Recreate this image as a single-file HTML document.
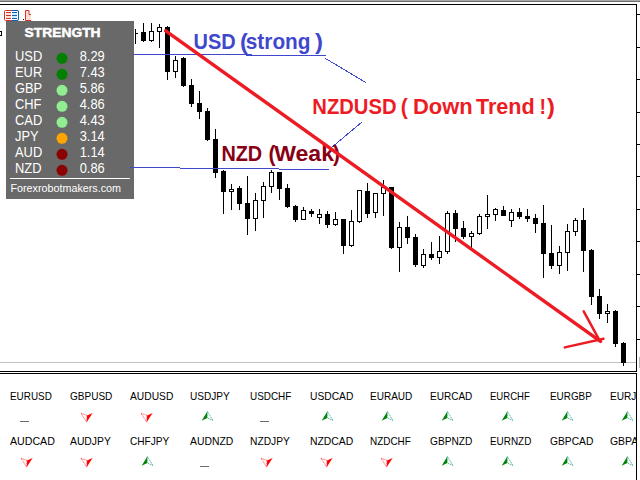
<!DOCTYPE html>
<html lang="en"><head><meta charset="utf-8"><title>Currency Strength - NZDUSD Down Trend</title>
<style>
html,body{margin:0;padding:0;background:#fff;}
body{width:640px;height:480px;overflow:hidden;position:relative;font-family:"Liberation Sans",sans-serif;}
svg{position:absolute;left:0;top:0;display:block;}
text{font-family:"Liberation Sans",sans-serif;}
.cal{font-weight:bold;}
</style></head><body>
<svg width="640" height="480" viewBox="0 0 640 480">
<rect x="0" y="0" width="640" height="480" fill="#ffffff"/>
<g shape-rendering="crispEdges">
<rect x="0" y="0" width="640" height="1" fill="#a9a9a9"/>
<rect x="0" y="1" width="640" height="1" fill="#6e6e6e"/>
<rect x="0" y="4" width="637" height="1" fill="#000"/>
<rect x="636" y="4" width="1" height="368" fill="#000"/>
<rect x="0" y="371" width="637" height="1" fill="#000"/>
<rect x="0" y="373" width="637" height="1" fill="#000"/>
<rect x="636" y="373" width="1" height="107" fill="#000"/>
<rect x="636" y="14" width="4" height="1" fill="#000"/>
<rect x="636" y="47" width="4" height="1" fill="#000"/>
<rect x="636" y="79" width="4" height="1" fill="#000"/>
<rect x="636" y="112" width="4" height="1" fill="#000"/>
<rect x="636" y="144" width="4" height="1" fill="#000"/>
<rect x="636" y="176" width="4" height="1" fill="#000"/>
<rect x="636" y="209" width="4" height="1" fill="#000"/>
<rect x="636" y="241" width="4" height="1" fill="#000"/>
<rect x="636" y="274" width="4" height="1" fill="#000"/>
<rect x="636" y="306" width="4" height="1" fill="#000"/>
<rect x="636" y="339" width="4" height="1" fill="#000"/>
<rect x="0" y="362" width="636" height="1" fill="#c0c0c0"/>
<rect x="639" y="357" width="1" height="11" fill="#b8b8b8"/>
</g>
<g shape-rendering="crispEdges">
<rect x="-3.5" y="31.5" width="5" height="4" fill="#fff" stroke="#000" stroke-width="1"/>
<rect x="135" y="29" width="1" height="15" fill="#000"/>
<rect x="135" y="33" width="3" height="1" fill="#000"/>
<rect x="143" y="23" width="1" height="19" fill="#000"/>
<rect x="141" y="32" width="5" height="9" fill="#000"/>
<rect x="151" y="23" width="1" height="19" fill="#000"/>
<rect x="149.5" y="31.5" width="4" height="9" fill="#fff" stroke="#000" stroke-width="1"/>
<rect x="159" y="24" width="1" height="24" fill="#000"/>
<rect x="157.5" y="27.5" width="4" height="4" fill="#fff" stroke="#000" stroke-width="1"/>
<rect x="167" y="26" width="1" height="54" fill="#000"/>
<rect x="165" y="27" width="5" height="45" fill="#000"/>
<rect x="175" y="56" width="1" height="22" fill="#000"/>
<rect x="173.5" y="60.5" width="4" height="11" fill="#fff" stroke="#000" stroke-width="1"/>
<rect x="183" y="57" width="1" height="30" fill="#000"/>
<rect x="181" y="58" width="5" height="28" fill="#000"/>
<rect x="191" y="79" width="1" height="28" fill="#000"/>
<rect x="189" y="85" width="5" height="19" fill="#000"/>
<rect x="199" y="91" width="1" height="28" fill="#000"/>
<rect x="197" y="103" width="5" height="9" fill="#000"/>
<rect x="207" y="108" width="1" height="33" fill="#000"/>
<rect x="205" y="111" width="5" height="29" fill="#000"/>
<rect x="215" y="129" width="1" height="49" fill="#000"/>
<rect x="213" y="139" width="5" height="34" fill="#000"/>
<rect x="223" y="170" width="1" height="44" fill="#000"/>
<rect x="221" y="171" width="5" height="21" fill="#000"/>
<rect x="231" y="184" width="1" height="26" fill="#000"/>
<rect x="229.5" y="189.5" width="4" height="2" fill="#fff" stroke="#000" stroke-width="1"/>
<rect x="239" y="186" width="1" height="24" fill="#000"/>
<rect x="237" y="188" width="5" height="16" fill="#000"/>
<rect x="247" y="176" width="1" height="59" fill="#000"/>
<rect x="245" y="203" width="5" height="16" fill="#000"/>
<rect x="255" y="193" width="1" height="38" fill="#000"/>
<rect x="253.5" y="200.5" width="4" height="18" fill="#fff" stroke="#000" stroke-width="1"/>
<rect x="263" y="182" width="1" height="36" fill="#000"/>
<rect x="261.5" y="186.5" width="4" height="14" fill="#fff" stroke="#000" stroke-width="1"/>
<rect x="271" y="170" width="1" height="23" fill="#000"/>
<rect x="269.5" y="172.5" width="4" height="14" fill="#fff" stroke="#000" stroke-width="1"/>
<rect x="279" y="172" width="1" height="28" fill="#000"/>
<rect x="277" y="172" width="5" height="17" fill="#000"/>
<rect x="287" y="184" width="1" height="24" fill="#000"/>
<rect x="285" y="188" width="5" height="19" fill="#000"/>
<rect x="295" y="205" width="1" height="17" fill="#000"/>
<rect x="293" y="206" width="5" height="14" fill="#000"/>
<rect x="303" y="207" width="1" height="13" fill="#000"/>
<rect x="301.5" y="210.5" width="4" height="9" fill="#fff" stroke="#000" stroke-width="1"/>
<rect x="311" y="209" width="1" height="8" fill="#000"/>
<rect x="309" y="211" width="5" height="3" fill="#000"/>
<rect x="319" y="209" width="1" height="15" fill="#000"/>
<rect x="317.5" y="214.5" width="4" height="3" fill="#fff" stroke="#000" stroke-width="1"/>
<rect x="327" y="211" width="1" height="17" fill="#000"/>
<rect x="325" y="214" width="5" height="11" fill="#000"/>
<rect x="335" y="212" width="1" height="14" fill="#000"/>
<rect x="333.5" y="219.5" width="4" height="5" fill="#fff" stroke="#000" stroke-width="1"/>
<rect x="343" y="219" width="1" height="35" fill="#000"/>
<rect x="341" y="219" width="5" height="27" fill="#000"/>
<rect x="351" y="210" width="1" height="37" fill="#000"/>
<rect x="349.5" y="221.5" width="4" height="24" fill="#fff" stroke="#000" stroke-width="1"/>
<rect x="359" y="190" width="1" height="33" fill="#000"/>
<rect x="357.5" y="190.5" width="4" height="31" fill="#fff" stroke="#000" stroke-width="1"/>
<rect x="367" y="183" width="1" height="35" fill="#000"/>
<rect x="365" y="191" width="5" height="23" fill="#000"/>
<rect x="375" y="193" width="1" height="25" fill="#000"/>
<rect x="373.5" y="193.5" width="4" height="19" fill="#fff" stroke="#000" stroke-width="1"/>
<rect x="383" y="180" width="1" height="36" fill="#000"/>
<rect x="381.5" y="187.5" width="4" height="6" fill="#fff" stroke="#000" stroke-width="1"/>
<rect x="391" y="187" width="1" height="62" fill="#000"/>
<rect x="389" y="187" width="5" height="61" fill="#000"/>
<rect x="399" y="222" width="1" height="50" fill="#000"/>
<rect x="397.5" y="227.5" width="4" height="20" fill="#fff" stroke="#000" stroke-width="1"/>
<rect x="407" y="216" width="1" height="28" fill="#000"/>
<rect x="405" y="227" width="5" height="11" fill="#000"/>
<rect x="415" y="234" width="1" height="33" fill="#000"/>
<rect x="413" y="237" width="5" height="28" fill="#000"/>
<rect x="423" y="249" width="1" height="19" fill="#000"/>
<rect x="421.5" y="254.5" width="4" height="11" fill="#fff" stroke="#000" stroke-width="1"/>
<rect x="431" y="242" width="1" height="18" fill="#000"/>
<rect x="429" y="254" width="5" height="4" fill="#000"/>
<rect x="439" y="236" width="1" height="28" fill="#000"/>
<rect x="437.5" y="251.5" width="4" height="6" fill="#fff" stroke="#000" stroke-width="1"/>
<rect x="447" y="211" width="1" height="43" fill="#000"/>
<rect x="445.5" y="213.5" width="4" height="38" fill="#fff" stroke="#000" stroke-width="1"/>
<rect x="455" y="210" width="1" height="32" fill="#000"/>
<rect x="453" y="213" width="5" height="16" fill="#000"/>
<rect x="463" y="221" width="1" height="18" fill="#000"/>
<rect x="461" y="228" width="5" height="9" fill="#000"/>
<rect x="471" y="231" width="1" height="18" fill="#000"/>
<rect x="469.5" y="233.5" width="4" height="3" fill="#fff" stroke="#000" stroke-width="1"/>
<rect x="479" y="214" width="1" height="21" fill="#000"/>
<rect x="477.5" y="216.5" width="4" height="17" fill="#fff" stroke="#000" stroke-width="1"/>
<rect x="487" y="195" width="1" height="34" fill="#000"/>
<rect x="485.5" y="214.5" width="4" height="2" fill="#fff" stroke="#000" stroke-width="1"/>
<rect x="495" y="208" width="1" height="13" fill="#000"/>
<rect x="493.5" y="209.5" width="4" height="5" fill="#fff" stroke="#000" stroke-width="1"/>
<rect x="503" y="206" width="1" height="10" fill="#000"/>
<rect x="501" y="210" width="5" height="6" fill="#000"/>
<rect x="511" y="209" width="1" height="18" fill="#000"/>
<rect x="509.5" y="212.5" width="4" height="8" fill="#fff" stroke="#000" stroke-width="1"/>
<rect x="519" y="208" width="1" height="11" fill="#000"/>
<rect x="517" y="212" width="5" height="5" fill="#000"/>
<rect x="527" y="209" width="1" height="13" fill="#000"/>
<rect x="525" y="216" width="5" height="3" fill="#000"/>
<rect x="535" y="214" width="1" height="19" fill="#000"/>
<rect x="533" y="218" width="5" height="6" fill="#000"/>
<rect x="543" y="205" width="1" height="73" fill="#000"/>
<rect x="541" y="223" width="5" height="31" fill="#000"/>
<rect x="551" y="225" width="1" height="44" fill="#000"/>
<rect x="549" y="253" width="5" height="13" fill="#000"/>
<rect x="559" y="246" width="1" height="28" fill="#000"/>
<rect x="557.5" y="252.5" width="4" height="13" fill="#fff" stroke="#000" stroke-width="1"/>
<rect x="567" y="224" width="1" height="47" fill="#000"/>
<rect x="565.5" y="231.5" width="4" height="21" fill="#fff" stroke="#000" stroke-width="1"/>
<rect x="575" y="218" width="1" height="18" fill="#000"/>
<rect x="573.5" y="220.5" width="4" height="11" fill="#fff" stroke="#000" stroke-width="1"/>
<rect x="583" y="208" width="1" height="64" fill="#000"/>
<rect x="581" y="220" width="5" height="31" fill="#000"/>
<rect x="591" y="249" width="1" height="56" fill="#000"/>
<rect x="589" y="250" width="5" height="47" fill="#000"/>
<rect x="599" y="289" width="1" height="30" fill="#000"/>
<rect x="597" y="296" width="5" height="18" fill="#000"/>
<rect x="607" y="304" width="1" height="19" fill="#000"/>
<rect x="605.5" y="311.5" width="4" height="2" fill="#fff" stroke="#000" stroke-width="1"/>
<rect x="615" y="310" width="1" height="37" fill="#000"/>
<rect x="613" y="311" width="5" height="33" fill="#000"/>
<rect x="623" y="342" width="1" height="24" fill="#000"/>
<rect x="621" y="343" width="5" height="20" fill="#000"/>
</g>
<rect x="6" y="21" width="128" height="178" fill="#696969" shape-rendering="crispEdges"/>
<text x="24.6" y="37.4" font-size="11.9" font-weight="bold" fill="#fff" stroke="#fff" stroke-width="0.45" textLength="76" lengthAdjust="spacingAndGlyphs">STRENGTH</text>
<text transform="translate(15,60.6) scale(0.915,1)" font-size="14.1" fill="#fff">USD</text>
<circle cx="62" cy="58.3" r="5.5" fill="#008000"/>
<text transform="translate(79.7,60.6) scale(0.915,1)" font-size="14.1" fill="#fff">8.29</text>
<text transform="translate(15,76.6) scale(0.915,1)" font-size="14.1" fill="#fff">EUR</text>
<circle cx="62" cy="74.3" r="5.5" fill="#008000"/>
<text transform="translate(79.7,76.6) scale(0.915,1)" font-size="14.1" fill="#fff">7.43</text>
<text transform="translate(15,92.6) scale(0.915,1)" font-size="14.1" fill="#fff">GBP</text>
<circle cx="62" cy="90.3" r="5.5" fill="#90ee90"/>
<text transform="translate(79.7,92.6) scale(0.915,1)" font-size="14.1" fill="#fff">5.86</text>
<text transform="translate(15,108.6) scale(0.915,1)" font-size="14.1" fill="#fff">CHF</text>
<circle cx="62" cy="106.3" r="5.5" fill="#90ee90"/>
<text transform="translate(79.7,108.6) scale(0.915,1)" font-size="14.1" fill="#fff">4.86</text>
<text transform="translate(15,124.6) scale(0.915,1)" font-size="14.1" fill="#fff">CAD</text>
<circle cx="62" cy="122.3" r="5.5" fill="#90ee90"/>
<text transform="translate(79.7,124.6) scale(0.915,1)" font-size="14.1" fill="#fff">4.43</text>
<text transform="translate(15,140.6) scale(0.915,1)" font-size="14.1" fill="#fff">JPY</text>
<circle cx="62" cy="138.3" r="5.5" fill="#ffa500"/>
<text transform="translate(79.7,140.6) scale(0.915,1)" font-size="14.1" fill="#fff">3.14</text>
<text transform="translate(15,156.6) scale(0.915,1)" font-size="14.1" fill="#fff">AUD</text>
<circle cx="62" cy="154.3" r="5.5" fill="#8b0000"/>
<text transform="translate(79.7,156.6) scale(0.915,1)" font-size="14.1" fill="#fff">1.14</text>
<text transform="translate(15,172.6) scale(0.915,1)" font-size="14.1" fill="#fff">NZD</text>
<circle cx="62" cy="170.3" r="5.5" fill="#8b0000"/>
<text transform="translate(79.7,172.6) scale(0.915,1)" font-size="14.1" fill="#fff">0.86</text>
<rect x="10" y="178" width="120" height="1" fill="#fff" shape-rendering="crispEdges"/>
<path d="M130 167.5H180M180 168.5H279M279 169.5H329" stroke="#3f48cc" stroke-width="1" fill="none" shape-rendering="crispEdges"/>
<g stroke="#3f48cc" stroke-width="1" fill="none" shape-rendering="crispEdges">
<path d="M133 54.5H252M246 55.5H326"/>
<line x1="325.5" y1="58.5" x2="366" y2="82.7"/>
<line x1="362.3" y1="121.7" x2="331" y2="148"/>
</g>
<text x="10.5" y="191.8" font-size="10.7" fill="#fff" textLength="110.5" lengthAdjust="spacingAndGlyphs">Forexrobotmakers.com</text>
<text class="cal" x="193.6" y="48.9" font-size="21.3" fill="#3f48cc" textLength="42.1" lengthAdjust="spacingAndGlyphs">USD</text>
<text class="cal" x="239.9" y="48.9" font-size="21.3" fill="#3f48cc" textLength="7.8" lengthAdjust="spacingAndGlyphs">(</text>
<text class="cal" x="245.8" y="48.9" font-size="21.3" fill="#3f48cc" textLength="64.7" lengthAdjust="spacingAndGlyphs">strong</text>
<text class="cal" x="314.9" y="48.9" font-size="21.3" fill="#3f48cc" textLength="8.0" lengthAdjust="spacingAndGlyphs">)</text>
<text class="cal" x="312.3" y="113.8" font-size="21.2" fill="#ed1c24" textLength="84.2" lengthAdjust="spacingAndGlyphs">NZDUSD</text>
<text class="cal" x="400.8" y="113.8" font-size="21.2" fill="#ed1c24" textLength="7.0" lengthAdjust="spacingAndGlyphs">(</text>
<text class="cal" x="412.9" y="113.8" font-size="21.2" fill="#ed1c24" textLength="59.7" lengthAdjust="spacingAndGlyphs">Down</text>
<text class="cal" x="476.0" y="113.8" font-size="21.2" fill="#ed1c24" textLength="58.7" lengthAdjust="spacingAndGlyphs">Trend</text>
<text class="cal" x="539.5" y="113.8" font-size="21.2" fill="#ed1c24" textLength="6.5" lengthAdjust="spacingAndGlyphs">!</text>
<text class="cal" x="547.0" y="113.8" font-size="21.2" fill="#ed1c24" textLength="7.9" lengthAdjust="spacingAndGlyphs">)</text>
<text class="cal" x="221.4" y="161.1" font-size="21.2" fill="#880015" textLength="40.8" lengthAdjust="spacingAndGlyphs">NZD</text>
<text class="cal" x="268.5" y="161.1" font-size="21.2" fill="#880015" textLength="7.0" lengthAdjust="spacingAndGlyphs">(</text>
<text class="cal" x="274.2" y="161.1" font-size="21.2" fill="#880015" textLength="59.8" lengthAdjust="spacingAndGlyphs">Weak</text>
<text class="cal" x="333.1" y="161.1" font-size="21.2" fill="#880015" textLength="7.0" lengthAdjust="spacingAndGlyphs">)</text>
<g stroke="#ed1c24" fill="none" stroke-linecap="round">
<line x1="165.7" y1="30.8" x2="600.5" y2="341.4" stroke-width="3.4"/>
<line x1="598.6" y1="338.6" x2="583.7" y2="311.4" stroke-width="2.5"/>
<line x1="603.5" y1="338.8" x2="564.8" y2="347.4" stroke-width="2.5"/>
</g>
<g>
<rect x="4.5" y="10.5" width="14" height="10" rx="1.2" fill="#fff" stroke="#d9302a" stroke-width="1"/>
<path d="M11.5 10.5 H17 a1.5 1.5 0 0 1 1.5 1.5 V19 a1.5 1.5 0 0 1 -1.5 1.5 H11.5" fill="#fff" stroke="#0d5fb5" stroke-width="1"/>
<rect x="6" y="12" width="5" height="7" fill="#fde0d6"/>
<rect x="12" y="12" width="5" height="7" fill="#cfeefc"/>
<rect x="6" y="12" width="5" height="1" fill="#d9302a"/>
<rect x="12" y="12" width="5" height="1" fill="#0d5fb5"/>
<rect x="6" y="15" width="5" height="1" fill="#d9302a"/>
<rect x="12" y="15" width="5" height="1" fill="#0d5fb5"/>
<rect x="6" y="18" width="5" height="1" fill="#d9302a"/>
<rect x="12" y="18" width="5" height="1" fill="#0d5fb5"/>
<rect x="23" y="19" width="1" height="1" fill="#000"/>
<path d="M31 20.5 H25.5 V10.5 H29 V14.5 H31" fill="#fddcd2" stroke="#d9302a" stroke-width="1"/>
</g>
<defs>
<clipPath id="subclip"><rect x="0" y="374" width="636" height="106"/></clipPath>
<g id="dn"><path d="M5.6 0.2 L0 2.6 L-0.3 9.4 Z" fill="#ff0000"/><path d="M-6 0.4 L0 2.6 L-0.3 9.4 Z" fill="#fffef4" stroke="#ff2244" stroke-width="0.7" stroke-dasharray="1.2 0.6"/></g>
<g id="up"><path d="M0 0 L-5.6 9.4 L0 6.6 Z" fill="#008000"/><path d="M0 0 L5.7 9.1 L0 6.6 Z" fill="#fdfff8" stroke="#3aa890" stroke-width="0.75" stroke-dasharray="1.6 0.5"/></g>
</defs>
<g clip-path="url(#subclip)">
<text x="10" y="399.6" font-size="10.5" fill="#000" textLength="41.8" lengthAdjust="spacingAndGlyphs">EURUSD</text>
<rect x="20" y="421" width="9" height="1" fill="#6b6b6b" shape-rendering="crispEdges"/>
<text x="70" y="399.6" font-size="10.5" fill="#000" textLength="42.3" lengthAdjust="spacingAndGlyphs">GBPUSD</text>
<use href="#dn" x="87" y="412.8"/>
<text x="130" y="399.6" font-size="10.5" fill="#000" textLength="43.3" lengthAdjust="spacingAndGlyphs">AUDUSD</text>
<use href="#dn" x="147" y="412.8"/>
<text x="190" y="399.6" font-size="10.5" fill="#000" textLength="39.8" lengthAdjust="spacingAndGlyphs">USDJPY</text>
<use href="#up" x="207.3" y="411.40000000000003"/>
<text x="250" y="399.6" font-size="10.5" fill="#000" textLength="41.3" lengthAdjust="spacingAndGlyphs">USDCHF</text>
<rect x="260" y="421" width="9" height="1" fill="#6b6b6b" shape-rendering="crispEdges"/>
<text x="310" y="399.6" font-size="10.5" fill="#000" textLength="43.3" lengthAdjust="spacingAndGlyphs">USDCAD</text>
<use href="#up" x="327.3" y="411.40000000000003"/>
<text x="370" y="399.6" font-size="10.5" fill="#000" textLength="42.3" lengthAdjust="spacingAndGlyphs">EURAUD</text>
<use href="#up" x="387.3" y="411.40000000000003"/>
<text x="430" y="399.6" font-size="10.5" fill="#000" textLength="42.3" lengthAdjust="spacingAndGlyphs">EURCAD</text>
<use href="#up" x="447.3" y="411.40000000000003"/>
<text x="490" y="399.6" font-size="10.5" fill="#000" textLength="39.8" lengthAdjust="spacingAndGlyphs">EURCHF</text>
<use href="#up" x="507.3" y="411.40000000000003"/>
<text x="550" y="399.6" font-size="10.5" fill="#000" textLength="41.8" lengthAdjust="spacingAndGlyphs">EURGBP</text>
<use href="#up" x="567.3" y="411.40000000000003"/>
<text x="610" y="399.6" font-size="10.5" fill="#000" textLength="39.8" lengthAdjust="spacingAndGlyphs">EURJPY</text>
<use href="#up" x="627.3" y="411.40000000000003"/>
<text x="10" y="444.6" font-size="10.5" fill="#000" textLength="44.8" lengthAdjust="spacingAndGlyphs">AUDCAD</text>
<use href="#dn" x="27" y="457.8"/>
<text x="70" y="444.6" font-size="10.5" fill="#000" textLength="40.8" lengthAdjust="spacingAndGlyphs">AUDJPY</text>
<use href="#dn" x="87" y="457.8"/>
<text x="130" y="444.6" font-size="10.5" fill="#000" textLength="39.3" lengthAdjust="spacingAndGlyphs">CHFJPY</text>
<use href="#up" x="147.3" y="456.40000000000003"/>
<text x="190" y="444.6" font-size="10.5" fill="#000" textLength="43.3" lengthAdjust="spacingAndGlyphs">AUDNZD</text>
<rect x="200" y="466" width="9" height="1" fill="#6b6b6b" shape-rendering="crispEdges"/>
<text x="250" y="444.6" font-size="10.5" fill="#000" textLength="39.8" lengthAdjust="spacingAndGlyphs">NZDJPY</text>
<use href="#dn" x="267" y="457.8"/>
<text x="310" y="444.6" font-size="10.5" fill="#000" textLength="43.3" lengthAdjust="spacingAndGlyphs">NZDCAD</text>
<use href="#dn" x="327" y="457.8"/>
<text x="370" y="444.6" font-size="10.5" fill="#000" textLength="40.8" lengthAdjust="spacingAndGlyphs">NZDCHF</text>
<use href="#dn" x="387" y="457.8"/>
<text x="430" y="444.6" font-size="10.5" fill="#000" textLength="42.3" lengthAdjust="spacingAndGlyphs">GBPNZD</text>
<use href="#up" x="447.3" y="456.40000000000003"/>
<text x="490" y="444.6" font-size="10.5" fill="#000" textLength="41.3" lengthAdjust="spacingAndGlyphs">EURNZD</text>
<use href="#up" x="507.3" y="456.40000000000003"/>
<text x="550" y="444.6" font-size="10.5" fill="#000" textLength="43.3" lengthAdjust="spacingAndGlyphs">GBPCAD</text>
<use href="#up" x="567.3" y="456.40000000000003"/>
<text x="610" y="444.6" font-size="10.5" fill="#000" textLength="43.3" lengthAdjust="spacingAndGlyphs">GBPAUD</text>
<use href="#up" x="627.3" y="456.40000000000003"/>
</g>
</svg>
</body></html>
